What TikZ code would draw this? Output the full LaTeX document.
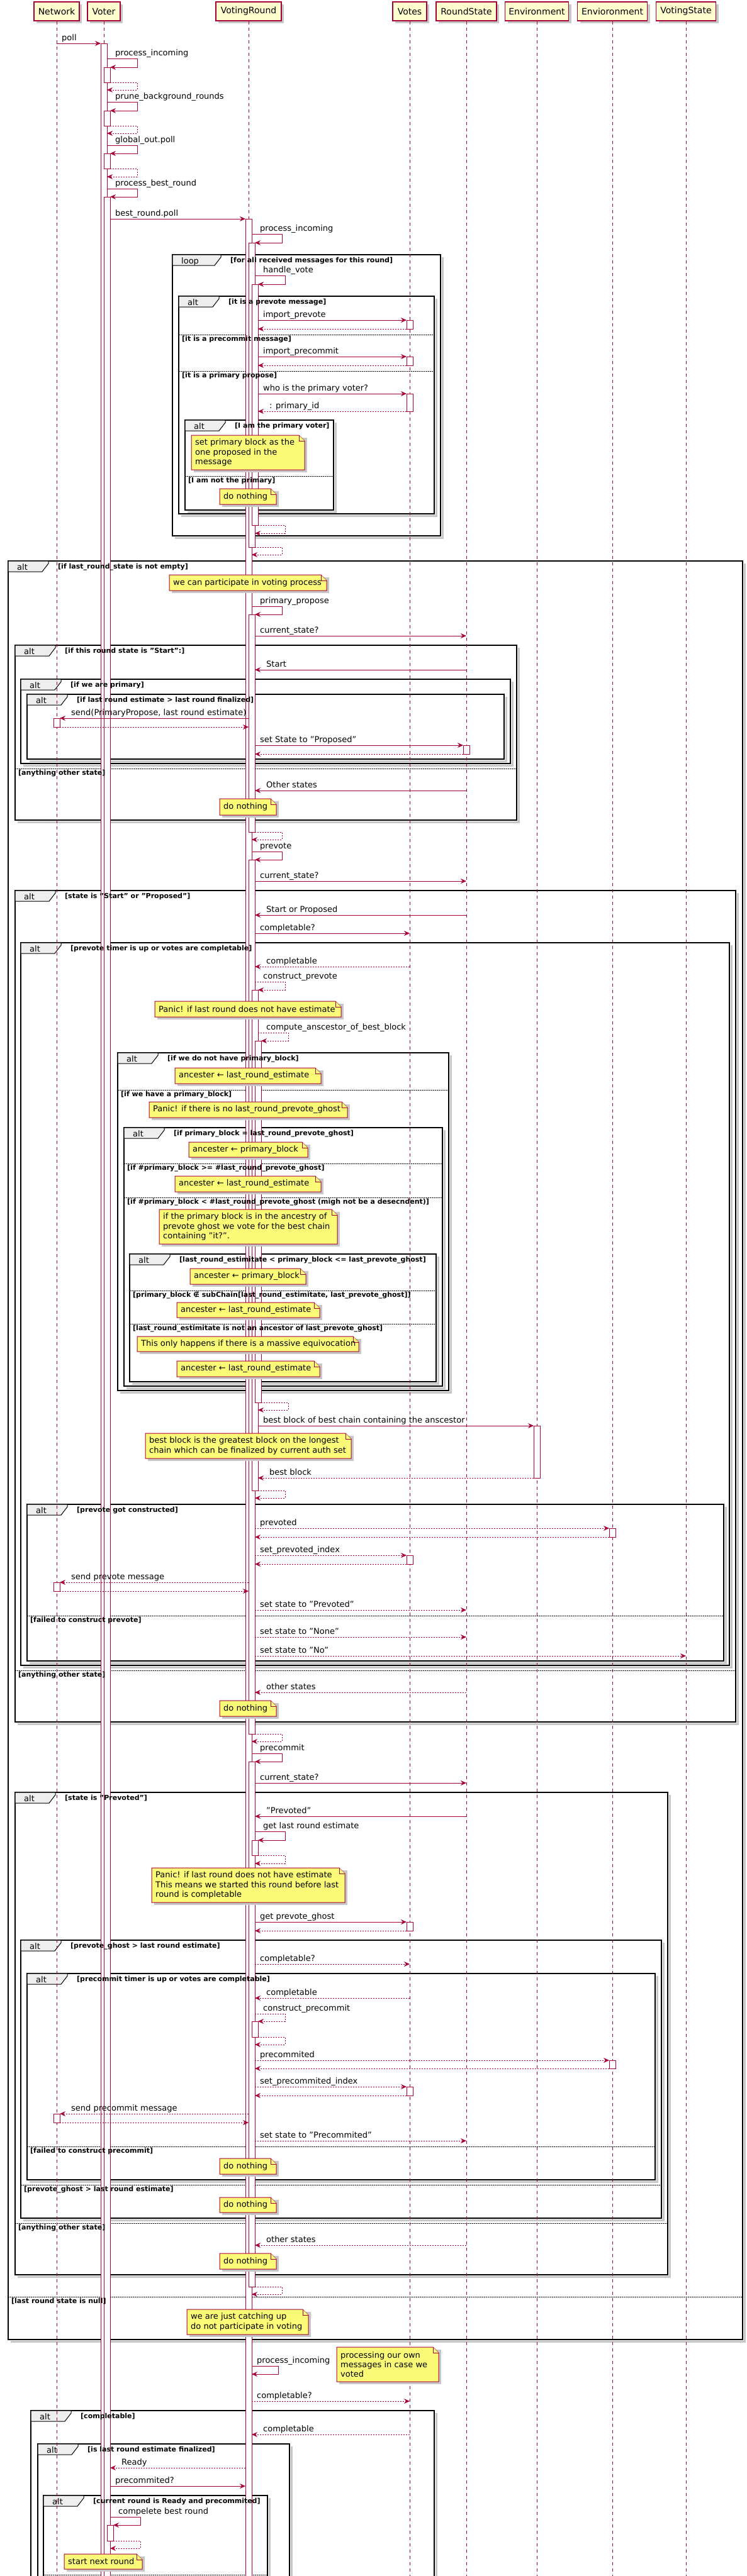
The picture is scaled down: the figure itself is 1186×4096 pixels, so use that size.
\documentclass[tikz,border=0pt]{standalone}
\usepackage{fontspec}
\setmainfont{DejaVu Sans}
\usetikzlibrary{arrows.meta}
\pgfdeclarelayer{fg}
\pgfsetlayers{main,fg}
\definecolor{pcol}{HTML}{A80036}
\definecolor{pfill}{HTML}{FEFECE}
\definecolor{nfill}{HTML}{FBFB77}
\definecolor{tabfill}{HTML}{EEEEEE}
\newcounter{ncnt}
\tikzset{
 msg/.style={draw=pcol, line width=1pt, -{Stealth[length=9pt,width=8pt,inset=3pt]}},
 ret/.style={msg, dash pattern=on 2pt off 2pt},
 lbl/.style={anchor=base west, inner sep=0pt, font=\fontsize{13}{15}\selectfont},
 cond/.style={anchor=base west, inner sep=0pt, font=\fontsize{11}{13}\selectfont\bfseries},
 kw/.style={anchor=base west, inner sep=0pt, font=\fontsize{13}{15}\selectfont},
 frmline/.style={draw=black, line width=1.5pt},
 shd/.style={draw=black!22, line width=3pt},
 tabs/.style={draw=black, line width=1pt, fill=tabfill},
 sepl/.style={draw=black, line width=0.8pt, dash pattern=on 1.5pt off 1.5pt},
 life/.style={draw=pcol, line width=0.8pt, dash pattern=on 5pt off 5pt},
 actbar/.style={draw=pcol, line width=1pt, fill=white},
 notes/.style={draw=pcol, line width=1pt, fill=nfill},
 ntext/.style={anchor=west, align=left, inner sep=0pt, font=\fontsize{13}{15.3}\selectfont},
 part/.style={draw=pcol, line width=1.5pt, fill=pfill, minimum height=30pt, inner sep=0pt, font=\fontsize{14}{16}\selectfont}
}
% frame: x0 y0 x1 y1 keyword tabwidth condition
\newcommand\frm[7]{%
 \draw[shd] (#3+3,#2+4) -- (#3+3,#4+3) -- (#1+4,#4+3);
 \draw[frmline] (#1,#2) rectangle (#3,#4);
 \draw[tabs] (#1,#2) -- (#1+#6,#2) -- (#1+#6,#2+4) -- (#1+#6-10,#2+17) -- (#1,#2+17) -- cycle;
 \node[kw] at (#1+14,#2+14) {#5};
 \begin{pgfonlayer}{fg}\node[cond] at (#1+#6+15,#2+12.5) {#7};\end{pgfonlayer}}
% separator: x0 x1 y label
\newcommand\fsep[4]{%
 \draw[sepl] (#1,#3) -- (#2,#3);
 \begin{pgfonlayer}{fg}\node[cond] at (#1+5,#3+10) {#4};\end{pgfonlayer}}
% note: x0 y0 x1 y1 text
\newcommand\unote[5]{%
 \stepcounter{ncnt}%
 \fill[black!22] (#1+4,#2+4) rectangle (#3+4,#4+4);
 \draw[notes] (#1,#2) -- (#3-9,#2) -- (#3,#2+9) -- (#3,#4) -- (#1,#4) -- cycle;
 \draw[notes] (#3-9,#2) -- (#3-9,#2+9) -- (#3,#2+9);
 \node[ntext] (note\arabic{ncnt}) at (#1+6,{(#2+#4)/2}) {#5};}
% activation: xleft y1 y2
\newcommand\actb[3]{\draw[actbar] (#1,#2) rectangle (#1+10,#3);}
% rightward message: xfrom xto y label style
\newcommand\msgR[5]{\draw[#5] (#1,#3) -- (#2,#3); \node[lbl] at (#1+8,#3-5) {#4};}
% leftward message: xfrom xto y label style
\newcommand\msgL[5]{\draw[#5] (#1,#3) -- (#2,#3); \node[lbl] at (#2+18,#3-5) {#4};}
% self message: xs xe y1 y2 xout label style
\newcommand\selfm[7]{\draw[#7] (#1,#3) -- (#5,#3) -- (#5,#4) -- (#2,#4); \node[lbl] at (#1+13,#3-5) {#6};}

\begin{document}
\begin{tikzpicture}[x=1pt,y=-1pt]
\useasboundingbox (0,0) rectangle (1186,4096);
\fill[white] (0,0) rectangle (1186,4096);

% frames
\frm{274}{405}{700}{852}{loop}{77}{[for all received messages for this round]}
\frm{284}{471}{690}{817}{alt}{64}{[it is a prevote message]}
\fsep{284}{690}{532}{[it is a precommit message]}
\fsep{284}{690}{590}{[it is a primary propose]}
\frm{294}{668}{530}{811}{alt}{64}{[I am the primary voter]}
\fsep{294}{530}{757}{[I am not the primary]}
\frm{13}{892}{1180}{3720}{alt}{64}{[if last\_round\_state is not empty]}
\fsep{13}{1180}{3652}{[last round state is null]}
\frm{24}{1026}{821}{1304}{alt}{64}{[if this round state is "Start":]}
\fsep{24}{821}{1222}{[anything other state]}
\frm{33}{1080}{811}{1214}{alt}{64}{[if we are primary]}
\frm{43}{1104}{801}{1207}{alt}{64}{[if last round estimate > last round finalized]}
\frm{24}{1416}{1169}{2738}{alt}{64}{[state is "Start" or "Proposed"]}
\fsep{24}{1169}{2656}{[anything other state]}
\frm{33}{1499}{1159}{2648}{alt}{64}{[prevote timer is up or votes are completable]}
\frm{187}{1674}{713}{2211}{alt}{64}{[if we do not have primary\_block]}
\fsep{187}{713}{1733}{[if we have a primary\_block]}
\frm{197}{1793}{703}{2204}{alt}{64}{[if primary\_block = last\_round\_prevote\_ghost]}
\fsep{197}{703}{1850}{[if \#primary\_block >= \#last\_round\_prevote\_ghost]}
\fsep{197}{703}{1904}{[if \#primary\_block < \#last\_round\_prevote\_ghost (migh not be a desecndent)]}
\frm{206}{1994}{693}{2197}{alt}{64}{[last\_round\_estimitate < primary\_block <= last\_prevote\_ghost]}
\fsep{206}{693}{2052}{[primary\_block ∉ subChain[last\_round\_estimitate, last\_prevote\_ghost]]}
\fsep{206}{693}{2105}{[last\_round\_estimitate is not an ancestor of last\_prevote\_ghost]}
\frm{43}{2392}{1150}{2641}{alt}{64}{[prevote got constructed]}
\fsep{43}{1150}{2569}{[failed to construct prevote]}
\frm{24}{2850}{1061}{3617}{alt}{64}{[state is "Prevoted"]}
\fsep{24}{1061}{3535}{[anything other state]}
\frm{33}{3085}{1051}{3527}{alt}{64}{[prevote\_ghost > last round estimate]}
\fsep{33}{1051}{3474}{[prevote\_ghost > last round estimate]}
\frm{43}{3138}{1041}{3466}{alt}{64}{[precommit timer is up or votes are completable]}
\fsep{43}{1041}{3413}{[failed to construct precommit]}
\frm{49}{3833}{690}{4300}{alt}{64}{[completable]}
\frm{60}{3886}{460}{4300}{alt}{64}{[is last round estimate finalized]}
\frm{69}{3968}{425}{4300}{alt}{64}{[current round is Ready and precommited]}
\fsep{69}{425}{4094}{}

% participants
\foreach \nm/\xx/\ww in {Network/90/72, Voter/165/52, VotingRound/395/104, Votes/651/54, RoundState/741/96, Environment/853/101, Envioronment/973/111, VotingState/1090/95}{
 \fill[black!22] (\xx-\ww/2+4,7) rectangle (\xx+\ww/2+4,37);
}
\node[part, minimum width=72pt] (Network) at (90,18) {Network};
\node[part, minimum width=52pt] (Voter) at (165,18) {Voter};
\node[part, minimum width=104pt] (VotingRound) at (395,18) {VotingRound};
\node[part, minimum width=54pt] (Votes) at (651,18) {Votes};
\node[part, minimum width=96pt] (RoundState) at (741,18) {RoundState};
\node[part, minimum width=101pt] (Environment) at (853,18) {Environment};
\node[part, minimum width=111pt] (Envioronment) at (973,18) {Envioronment};
\node[part, minimum width=95pt] (VotingState) at (1090,18) {VotingState};
\foreach \nm in {Network,Voter,VotingRound,Votes,RoundState,Environment,Envioronment,VotingState}{
 \coordinate (\nm-end) at ([yshift=-4100pt]\nm.south);
 \draw[life] (\nm.south) -- (\nm-end);
}

% activation bars
\actb{160}{69}{4200}
\actb{165}{107}{131}
\actb{165}{176}{200}
\actb{165}{244}{268}
\actb{165}{313}{4200}
\actb{170}{4015}{4040}
\actb{390}{348}{4200}
\actb{395}{386}{870}
\actb{400}{452}{835}
\actb{395}{977}{1323}
\actb{395}{1367}{2757}
\actb{400}{1574}{2370}
\actb{405}{1655}{2230}
\actb{395}{2801}{3636}
\actb{400}{2926}{2950}
\actb{400}{3214}{3239}
\actb{646}{509}{523}
\actb{646}{567}{581}
\actb{646}{626}{654}
\actb{646}{2473}{2487}
\actb{646}{3056}{3070}
\actb{646}{3318}{3332}
\actb{736}{1185}{1199}
\actb{85}{1142}{1156}
\actb{85}{2516}{2530}
\actb{85}{3361}{3375}
\actb{848}{2267}{2350}
\actb{968}{2430}{2444}
\actb{968}{3276}{3289}

% messages
\msgR{90}{160}{69}{poll}{msg}
\selfm{170}{175}{93}{107}{218}{process\_incoming}{msg}
\selfm{175}{170}{131}{143}{218}{}{ret}
\selfm{170}{175}{162}{176}{218}{prune\_background\_rounds}{msg}
\selfm{175}{170}{200}{212}{218}{}{ret}
\selfm{170}{175}{231}{244}{218}{global\_out.poll}{msg}
\selfm{175}{170}{268}{281}{218}{}{ret}
\selfm{170}{175}{300}{313}{218}{process\_best\_round}{msg}
\msgR{175}{390}{348}{best\_round.poll}{msg}
\selfm{400}{405}{372}{386}{448}{process\_incoming}{msg}
\selfm{405}{410}{438}{452}{453}{handle\_vote}{msg}
\msgR{410}{646}{509}{import\_prevote}{msg}
\msgL{646}{410}{523}{}{ret}
\msgR{410}{646}{567}{import\_precommit}{msg}
\msgL{646}{410}{581}{}{ret}
\msgR{410}{646}{626}{who is the primary voter?}{msg}
\msgL{646}{410}{654}{: primary\_id}{ret}
\selfm{410}{405}{835}{848}{453}{}{ret}
\selfm{405}{400}{870}{882}{448}{}{ret}
\selfm{400}{405}{964}{977}{448}{primary\_propose}{msg}
\msgR{405}{741}{1011}{current\_state?}{msg}
\msgL{741}{405}{1065}{Start}{msg}
\msgL{395}{95}{1142}{send(PrimaryPropose, last round estimate)}{msg}
\msgR{95}{395}{1156}{}{ret}
\msgR{405}{736}{1185}{set State to "Proposed"}{msg}
\msgL{736}{405}{1199}{}{ret}
\msgL{741}{405}{1257}{Other states}{msg}
\selfm{405}{400}{1323}{1335}{448}{}{ret}
\selfm{400}{405}{1354}{1367}{448}{prevote}{msg}
\msgR{405}{741}{1401}{current\_state?}{msg}
\msgL{741}{405}{1455}{Start or Proposed}{msg}
\msgR{405}{651}{1484}{completable?}{msg}
\msgL{651}{405}{1537}{completable}{ret}
\selfm{405}{410}{1561}{1574}{453}{construct\_prevote}{ret}
\selfm{410}{415}{1642}{1655}{458}{compute\_anscestor\_of\_best\_block}{ret}
\selfm{415}{410}{2230}{2242}{458}{}{ret}
\msgR{410}{848}{2267}{best block of best chain containing the anscestor}{msg}
\msgL{848}{410}{2350}{best block}{ret}
\selfm{410}{405}{2370}{2382}{453}{}{ret}
\msgR{405}{968}{2430}{prevoted}{ret}
\msgL{968}{405}{2444}{}{ret}
\msgR{405}{646}{2473}{set\_prevoted\_index}{ret}
\msgL{646}{405}{2487}{}{ret}
\msgL{395}{95}{2516}{send prevote message}{ret}
\msgR{95}{395}{2530}{}{ret}
\msgR{405}{741}{2560}{set state to "Prevoted"}{ret}
\msgR{405}{741}{2603}{set state to "None"}{ret}
\msgR{405}{1090}{2633}{set state to "No"}{ret}
\msgL{741}{405}{2691}{other states}{ret}
\selfm{405}{400}{2757}{2769}{448}{}{ret}
\selfm{400}{405}{2788}{2801}{448}{precommit}{msg}
\msgR{405}{741}{2835}{current\_state?}{msg}
\msgL{741}{405}{2888}{"Prevoted"}{msg}
\selfm{405}{410}{2912}{2926}{453}{get last round estimate}{msg}
\selfm{410}{405}{2950}{2963}{453}{}{ret}
\msgR{405}{646}{3056}{get prevote\_ghost}{msg}
\msgL{646}{405}{3070}{}{ret}
\msgR{405}{651}{3123}{completable?}{ret}
\msgL{651}{405}{3177}{completable}{ret}
\selfm{405}{410}{3202}{3214}{453}{construct\_precommit}{ret}
\selfm{410}{405}{3239}{3251}{453}{}{ret}
\msgR{405}{968}{3276}{precommited}{ret}
\msgL{968}{405}{3289}{}{ret}
\msgR{405}{646}{3318}{set\_precommited\_index}{ret}
\msgL{646}{405}{3332}{}{ret}
\msgL{395}{95}{3361}{send precommit message}{ret}
\msgR{95}{395}{3375}{}{ret}
\msgR{405}{741}{3404}{set state to "Precommited"}{ret}
\msgL{741}{405}{3570}{other states}{ret}
\selfm{405}{400}{3636}{3648}{448}{}{ret}
\selfm{400}{400}{3762}{3775}{442}{}{msg}
\node[lbl] at (408,3757) {process\_incoming};
\msgR{400}{651}{3818}{completable?}{ret}
\msgL{651}{400}{3871}{completable}{ret}
\msgL{390}{175}{3924}{Ready}{ret}
\msgR{175}{390}{3953}{precommited?}{msg}
\selfm{175}{180}{4002}{4015}{223}{compelete best round}{msg}
\selfm{180}{175}{4040}{4052}{223}{}{ret}

% notes
\unote{304}{692}{484}{747}{set primary block as the\\one proposed in the\\message}
\unote{349}{777}{439}{802}{do nothing}
\unote{269}{914}{519}{939}{we can participate in voting process}
\unote{349}{1270}{439}{1296}{do nothing}
\unote{246}{1592}{542}{1617}{Panic! if last round does not have estimate}
\unote{278}{1698}{510}{1723}{ancester ← last\_round\_estimate}
\unote{237}{1752}{552}{1777}{Panic! if there is no last\_round\_prevote\_ghost}
\unote{300}{1816}{489}{1840}{ancester ← primary\_block}
\unote{278}{1870}{510}{1895}{ancester ← last\_round\_estimate}
\unote{253}{1923}{536}{1978}{if the primary block is in the ancestry of\\prevote ghost we vote for the best chain\\containing "it?".}
\unote{302}{2017}{486}{2042}{ancester ← primary\_block}
\unote{281}{2071}{508}{2095}{ancester ← last\_round\_estimate}
\unote{218}{2125}{570}{2149}{This only happens if there is a massive equivocation}
\unote{281}{2164}{508}{2189}{ancester ← last\_round\_estimate}
\unote{231}{2279}{558}{2319}{best block is the greatest block on the longest\\chain which can be finalized by current auth set}
\unote{349}{2704}{439}{2729}{do nothing}
\unote{241}{2970}{548}{3025}{Panic! if last round does not have estimate\\This means we started this round before last\\round is completable}
\unote{349}{3432}{439}{3457}{do nothing}
\unote{349}{3494}{439}{3518}{do nothing}
\unote{349}{3583}{439}{3608}{do nothing}
\unote{297}{3672}{490}{3712}{we are just catching up\\do not participate in voting}
\unote{535}{3732}{697}{3787}{processing our own\\messages in case we\\voted}
\unote{102}{4061}{226}{4085}{start next round}
\end{tikzpicture}
\end{document}
